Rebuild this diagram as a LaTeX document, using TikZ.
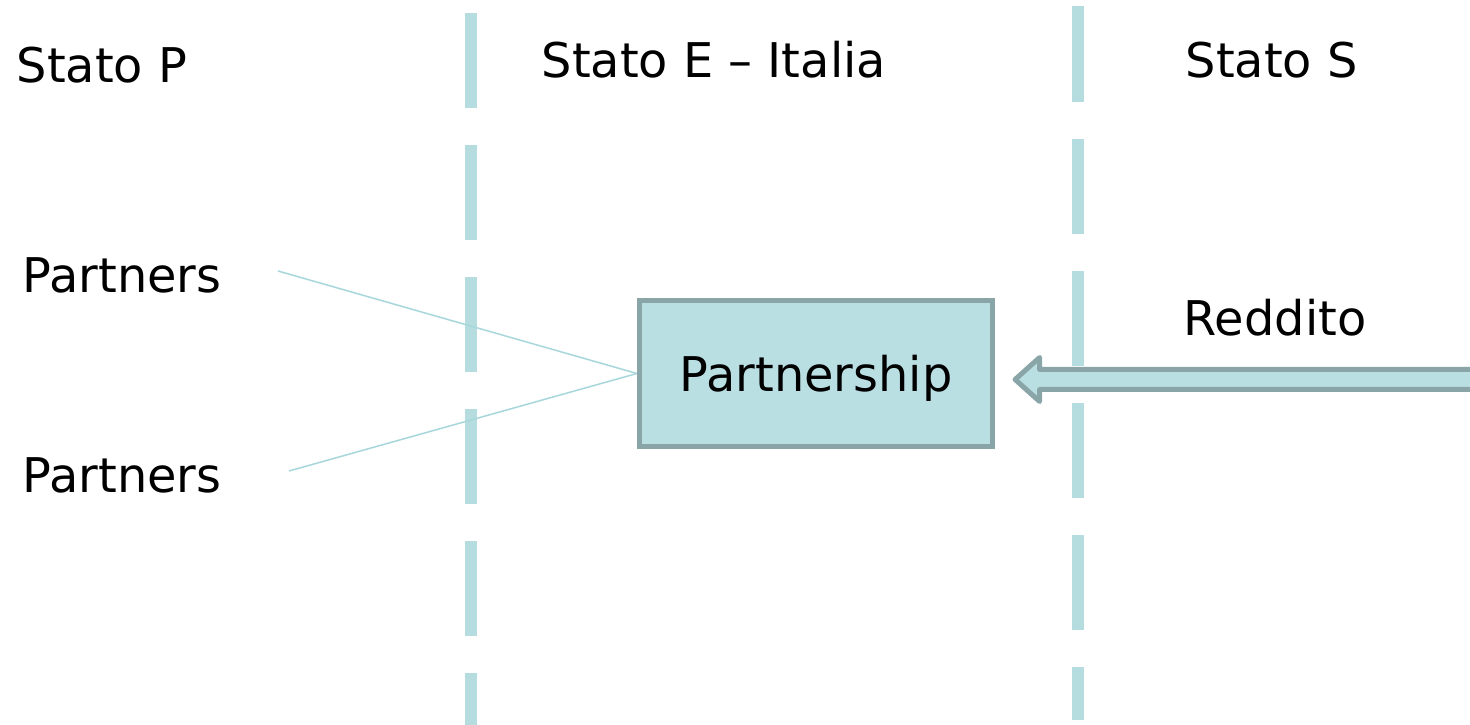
\documentclass[tikz,border=0pt]{standalone}
\usepackage{fontspec}
\setmainfont{DejaVu Sans}
\usetikzlibrary{calc}
\definecolor{lineblue}{HTML}{B5DCDF}
\definecolor{linkblue}{HTML}{A8D7DB}
\definecolor{boxfill}{HTML}{B9DFE2}
\definecolor{boxedge}{HTML}{8AA5A7}
\tikzset{
  lbl/.style={anchor=base west,inner sep=0pt,font=\fontsize{13.6}{16}\selectfont},
  border/.style={draw=lineblue,line width=0.125cm,dash pattern=on 0.95cm off 0.37cm},
  link/.style={draw=linkblue,line width=0.015cm},
  pbox/.style={draw=boxedge,fill=boxfill,line width=0.05cm,inner sep=0pt,text depth=0pt,
    minimum width=3.53cm,minimum height=1.46cm,font=\fontsize{13.6}{16}\selectfont},
  fat/.style={draw=boxedge,fill=boxfill,line width=0.05cm,line join=round}
}
\begin{document}
\begin{tikzpicture}[x=0.01cm,y=-0.01cm]
\clip(0,0)rectangle(1470,725);
\fill[white](0,0)rectangle(1470,725);
% borders between the states
\draw[border](471,13)--(471,740);
\draw[border](1078,6.5)--(1078,720);
\node[lbl](statoP) at (16,83){Stato P};
\node[lbl](statoE) at (541,78){Stato E – Italia};
\node[lbl](statoS) at (1185,78){Stato S};
\node[lbl](partA) at (22,293){Partners};
\node[lbl](partB) at (22,493){Partners};
\node[lbl](reddito) at (1183,336){Reddito};
\node[pbox](pship) at (816,373.5){Partnership};
\coordinate(tailA) at (278,271);
\coordinate(tailB) at (289,471);
\draw[link](tailA)--(pship.west);
\draw[link](tailB)--(pship.west);
% income arrow
\coordinate(tip) at ($(pship.east)+(20,6)$);
\coordinate(src) at (1490,379.5);
\draw[fat](tip)--($(tip)+(24.5,-22)$)--($(tip)+(24.5,-10)$)--($(src)+(0,-10)$)
  --($(src)+(0,10)$)--($(tip)+(24.5,10)$)--($(tip)+(24.5,22)$)--cycle;
\end{tikzpicture}
\end{document}
